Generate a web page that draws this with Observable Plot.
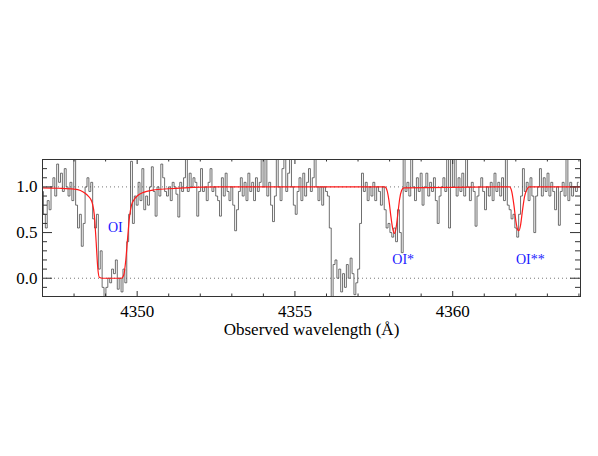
<!DOCTYPE html>
<html>
<head>
<meta charset="utf-8">
<script src="https://cdn.jsdelivr.net/npm/d3@7"></script>
<script src="https://cdn.jsdelivr.net/npm/@observablehq/plot@0.6"></script>
<style>
  html, body { margin: 0; padding: 0; background: #fff; }
  #chart svg { display: block; font-family: "Liberation Serif", "DejaVu Serif", serif !important; }
  #chart svg text { font-family: "Liberation Serif", "DejaVu Serif", serif !important; }
</style>
</head>
<body>
<div id="chart"></div>
<script>
// Spectrum: uniform wavelength grid (start + step) and normalized flux per bin
const lambdaStart = 4347.0;
const lambdaStep = 0.06;
const flux = [
  0.95,0.7,0.55,0.85,0.75,1.0,1.1,0.9,1.25,1.05,
  1.15,0.95,1.2,1.0,0.9,1.05,0.85,1.3,0.8,0.55,
  0.7,0.35,0.6,1.0,1.1,0.95,1.05,0.65,0.55,0.7,
  0.1,0.3,-0.1,-0.2,-0.1,0.0,-0.05,0.1,0.05,0.2,
  -0.12,0.0,-0.15,0.1,-0.05,0.4,0.7,1.28,0.6,0.9,
  0.8,1.05,0.85,1.2,0.75,0.9,0.8,1.0,1.22,0.95,
  0.68,1.0,0.9,1.25,1.1,0.95,0.9,1.0,0.85,1.05,
  1.0,0.92,0.67,1.05,0.95,1.1,1.3,0.95,1.15,1.0,
  1.1,1.05,0.68,0.95,1.2,0.95,1.0,0.85,1.05,1.2,
  0.95,1.0,0.9,0.85,0.68,1.1,0.9,1.15,0.95,0.85,
  1.0,0.8,0.52,0.75,0.95,1.1,0.9,1.05,0.85,1.15,
  0.95,1.05,0.85,1.1,0.95,1.05,1.32,1.0,1.32,0.9,
  1.05,0.8,0.62,0.9,1.32,1.0,0.85,1.2,1.32,0.95,
  1.15,1.32,1.0,0.8,0.7,0.95,1.1,0.85,1.15,0.9,
  1.05,1.2,0.95,1.1,1.32,1.0,0.85,1.0,0.8,1.0,
  0.95,0.9,0.55,-0.2,0.15,0.2,0.0,0.1,-0.15,0.05,
  -0.1,0.15,0.0,0.22,0.05,-0.18,-0.05,0.1,0.6,1.15,
  0.95,1.05,0.85,1.0,0.9,1.05,0.85,1.0,0.95,0.8,
  1.0,0.75,0.55,0.6,0.5,0.45,0.55,0.4,0.75,0.5,
  0.28,1.3,0.95,1.05,0.9,1.3,1.0,0.85,1.1,0.95,
  1.15,0.8,1.0,1.15,0.9,1.05,0.95,1.1,0.85,0.6,
  0.9,1.0,1.1,0.95,1.32,0.55,1.32,1.0,1.32,0.9,
  1.1,0.95,1.15,0.9,1.32,1.0,0.85,1.05,0.95,0.57,
  0.9,1.0,1.1,0.95,0.75,1.0,0.9,1.05,0.85,1.15,
  0.95,1.05,0.9,1.1,0.85,1.3,0.8,0.75,0.65,0.7,
  0.55,0.45,0.7,0.9,1.2,0.95,1.05,0.85,1.1,0.9,
  0.5,0.9,1.0,1.2,0.9,1.1,0.95,1.15,0.9,1.05,
  0.95,0.75,1.0,0.58,0.95,1.05,0.9,1.3,0.85,1.05,
  0.9,1.0,0.95,1.05
];

// Fitted model (red)
const modelWave = [4347.0,4347.5,4348.0,4348.2,4348.35,4348.45,4348.52,4348.58,4348.64,4348.7,
  4348.75,4348.8,4348.9,4349.5,4349.57,4349.64,4349.7,4349.76,4349.82,4349.9,
  4350.0,4350.2,4350.5,4351.0,4351.5,4352.5,4357.85,4357.92,4357.98,4358.04,
  4358.1,4358.15,4358.2,4358.26,4358.32,4358.38,4358.45,4361.8,4361.87,4361.94,
  4362.0,4362.06,4362.1,4362.15,4362.21,4362.28,4362.35,4362.42,4364.05];
const modelFlux = [0.99,0.985,0.975,0.96,0.93,0.9,0.87,0.82,0.7,0.4,
  0.12,0.01,0.0,0.0,0.03,0.2,0.45,0.68,0.8,0.86,
  0.9,0.94,0.965,0.98,0.99,1.0,1.0,0.96,0.85,0.68,
  0.54,0.49,0.54,0.7,0.87,0.96,0.99,1.0,0.95,0.8,
  0.63,0.53,0.52,0.58,0.74,0.9,0.97,1.0,1.0];

// Line identifications
const lineNames = ["OI", "OI*", "OI**"];
const lineLabelWave = [4349.31, 4358.43, 4362.46];
const lineLabelFlux = [0.55, 0.2, 0.2];

// Axes
const xDomain = [4347.0, 4364.05];
const yDomain = [-0.2, 1.3];
const xMajorTicks = [4350, 4355, 4360];
const xMinorTicks = [4347,4348,4349,4351,4352,4353,4354,4356,4357,4358,4359,4361,4362,4363,4364];
const yMajorTicks = [0.0, 0.5, 1.0];
const yMinorTicks = [-0.2,-0.1,0.1,0.2,0.3,0.4,0.6,0.7,0.8,0.9,1.1,1.2,1.3];
const gridValues = [0, 1];
const xLabel = "Observed wavelength (Å)";

const spectrum = flux.map((f, i) => ({w: lambdaStart + i * lambdaStep, f}));
const model = modelWave.map((w, i) => ({w, f: modelFlux[i]}));
const labels = lineNames.map((t, i) => ({t, w: lineLabelWave[i], f: lineLabelFlux[i]}));

const W = 598, H = 456;
const mL = 42, mR = 18, mT = 159, mB = 160;
const plotW = W - mL - mR, plotH = H - mT - mB;
const axisColor = "#333";
const serif = "Liberation Serif";

const chart = Plot.plot({
  width: W, height: H,
  marginLeft: mL, marginRight: mR, marginTop: mT, marginBottom: mB,
  style: {fontFamily: serif, background: "#fff"},
  x: {domain: xDomain},
  y: {domain: yDomain},
  marks: [
    Plot.ruleY(gridValues, {y: d => d, stroke: "#777", strokeDasharray: "1,3", strokeWidth: 1}),
    Plot.line(spectrum, {x: "w", y: "f", curve: "step", stroke: "#4a4a4a", strokeWidth: 0.8, clip: true}),
    Plot.line(model, {x: "w", y: "f", curve: "monotone-x", stroke: "#ff1a1a", strokeWidth: 1.2, clip: true}),
    Plot.text(labels, {x: "w", y: "f", text: "t", fill: "#1a1aff", fontSize: 14, fontFamily: serif}),
    // inward ticks: bottom & top
    Plot.tickX(xMajorTicks, {x: d => d, insetTop: plotH - 5, stroke: axisColor}),
    Plot.tickX(xMinorTicks, {x: d => d, insetTop: plotH - 2.5, stroke: axisColor}),
    Plot.tickX(xMajorTicks, {x: d => d, insetBottom: plotH - 5, stroke: axisColor}),
    Plot.tickX(xMinorTicks, {x: d => d, insetBottom: plotH - 2.5, stroke: axisColor}),
    // inward ticks: left & right
    Plot.tickY(yMajorTicks, {y: d => d, insetRight: plotW - 10, stroke: axisColor}),
    Plot.tickY(yMinorTicks, {y: d => d, insetRight: plotW - 5, stroke: axisColor}),
    Plot.tickY(yMajorTicks, {y: d => d, insetLeft: plotW - 10, stroke: axisColor}),
    Plot.tickY(yMinorTicks, {y: d => d, insetLeft: plotW - 5, stroke: axisColor}),
    Plot.frame({stroke: axisColor, strokeWidth: 1}),
    Plot.axisX({ticks: xMajorTicks, tickSize: 0, tickPadding: 8, tickFormat: d => String(d), fontSize: 17, fontFamily: serif, fill: "#000", label: null}),
    Plot.axisY({ticks: yMajorTicks, tickSize: 0, tickPadding: 5, tickFormat: d3.format(".1f"), fontSize: 17, fontFamily: serif, fill: "#000", label: null}),
    Plot.text([xLabel], {text: d => d, frameAnchor: "bottom", dy: 33, fontSize: 17, fontFamily: serif, fill: "#000", lineAnchor: "middle"})
  ]
});
document.getElementById("chart").appendChild(chart);
</script>
</body>
</html>
